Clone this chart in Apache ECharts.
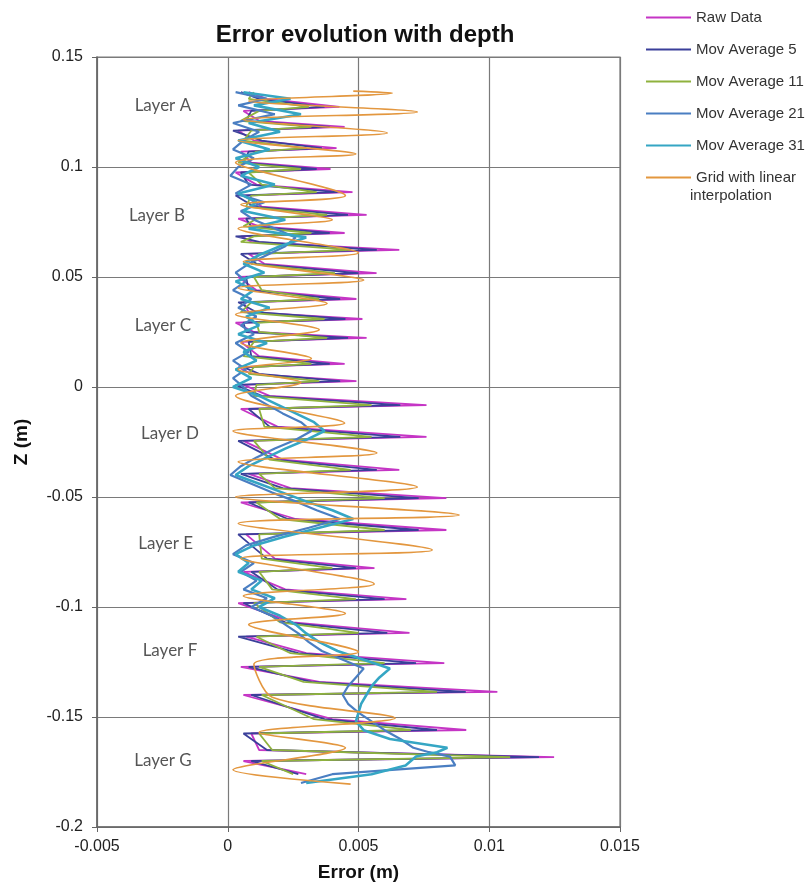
<!DOCTYPE html>
<html>
<head>
  <meta charset="UTF-8">
  <title>Error evolution with depth</title>
  <script src="https://cdn.jsdelivr.net/npm/echarts@6/dist/echarts.min.js"></script>
</head>
<style type="text/css">
    html,body {padding: 0; margin: 0; background: #fff;}
    #chart {width: 806px; height: 889px;}
</style>
<body>
<div id="chart"></div>
<script type="text/javascript">

// depth points shared by Raw data, Mov Average 5 and Mov Average 11
var zSpike = [
  0.134, 0.131, 0.1273, 0.1255, 0.121, 0.1182, 0.1165, 0.112, 0.1086, 0.107,
  0.102, 0.0991, 0.0975, 0.092, 0.0886, 0.087, 0.082, 0.0782, 0.0765, 0.073,
  0.07, 0.0685, 0.066, 0.0623, 0.0605, 0.056, 0.0518, 0.05, 0.044, 0.04,
  0.0385, 0.034, 0.0309, 0.0292, 0.025, 0.0223, 0.0205, 0.014, 0.0105, 0.009,
  0.006, 0.0027, 0.001, -0.004, -0.0082, -0.01, -0.018, -0.0227, -0.0245, -0.033,
  -0.0377, -0.0395, -0.046, -0.0505, -0.0525, -0.06, -0.065, -0.067, -0.078, -0.0823,
  -0.084, -0.092, -0.0964, -0.0982, -0.107, -0.1118, -0.1135, -0.121, -0.1255, -0.1272,
  -0.134, -0.1386, -0.14, -0.151, -0.1559, -0.1575, -0.165, -0.1682, -0.17, -0.176
];
var rawData = [
  0.0008, 0.0015, 0.00427, 0.0006, 0.0012, 0.00447, 0.0004, 0.0010, 0.00416, 0.0005,
  0.0009, 0.00393, 0.0003, 0.0011, 0.00477, 0.0006, 0.0013, 0.00531, 0.0004, 0.0012,
  0.00447, 0.0005, 0.0009, 0.00656, 0.0008, 0.0014, 0.00569, 0.0004, 0.0011, 0.00492,
  0.0006, 0.0008, 0.00515, 0.0003, 0.0010, 0.00531, 0.0005, 0.0012, 0.00447, 0.0004,
  0.0009, 0.00492, 0.0006, 0.0016, 0.0076, 0.0005, 0.0019, 0.0076, 0.0006, 0.0021,
  0.00656, 0.0008, 0.0024, 0.00836, 0.0005, 0.0026, 0.00836, 0.0007, 0.0018, 0.00561,
  0.0006, 0.0022, 0.00683, 0.0004, 0.0025, 0.00695, 0.0007, 0.0030, 0.00828, 0.0005,
  0.0035, 0.01031, 0.0006, 0.0040, 0.00912, 0.0009, 0.0012, 0.01248, 0.0006, 0.0030
];
var movAvg5 = [
  0.0005, 0.0012, 0.0037, 0.0009, 0.0007, 0.0039, 0.0002, 0.0013, 0.0036, 0.0008,
  0.0006, 0.0034, 0.0005, 0.0008, 0.0042, 0.0003, 0.0010, 0.0046, 0.0007, 0.0009,
  0.0039, 0.0003, 0.0012, 0.0057, 0.0005, 0.0011, 0.0050, 0.0007, 0.0008, 0.0043,
  0.0004, 0.0011, 0.0045, 0.0006, 0.0007, 0.0046, 0.0008, 0.0009, 0.0039, 0.0006,
  0.0012, 0.0043, 0.0003, 0.0013, 0.0066, 0.0008, 0.0016, 0.0066, 0.0004, 0.0018,
  0.0057, 0.0005, 0.0021, 0.0073, 0.0008, 0.0023, 0.0073, 0.0004, 0.0015, 0.0049,
  0.0009, 0.0019, 0.0060, 0.0006, 0.0022, 0.0061, 0.0004, 0.0027, 0.0072, 0.0008,
  0.0032, 0.0091, 0.0009, 0.0037, 0.0080, 0.0006, 0.0015, 0.0119, 0.0009, 0.0027
];
var movAvg11 = [
  0.0010, 0.0008, 0.0031, 0.0012, 0.0005, 0.0032, 0.0009, 0.0006, 0.0030, 0.0011,
  0.0004, 0.0028, 0.0008, 0.0013, 0.0034, 0.0009, 0.0007, 0.0038, 0.0011, 0.0006,
  0.0032, 0.0010, 0.0005, 0.0047, 0.0012, 0.0009, 0.0041, 0.0010, 0.0013, 0.0035,
  0.0009, 0.0005, 0.0037, 0.0011, 0.0012, 0.0038, 0.0010, 0.0006, 0.0032, 0.0010,
  0.0008, 0.0035, 0.0011, 0.0010, 0.0055, 0.0012, 0.0014, 0.0055, 0.0010, 0.0016,
  0.0047, 0.0012, 0.0018, 0.0060, 0.0011, 0.0020, 0.0060, 0.0012, 0.0013, 0.0040,
  0.0012, 0.0017, 0.0049, 0.0010, 0.0020, 0.0050, 0.0011, 0.0024, 0.0060, 0.0012,
  0.0029, 0.0080, 0.0013, 0.0033, 0.0070, 0.0012, 0.0017, 0.0108, 0.0013, 0.0025
];

// depth points shared by Mov Average 21 and Mov Average 31
var zSmooth = [
  0.134, 0.131, 0.128, 0.124, 0.12, 0.116, 0.112, 0.108, 0.104, 0.1,
  0.096, 0.092, 0.088, 0.084, 0.08, 0.076, 0.072, 0.068, 0.064, 0.06,
  0.056, 0.052, 0.048, 0.044, 0.04, 0.036, 0.032, 0.028, 0.024, 0.02,
  0.016, 0.012, 0.008, 0.004, 0, -0.004, -0.008, -0.012, -0.016, -0.02,
  -0.024, -0.028, -0.032, -0.036, -0.04, -0.044, -0.048, -0.052, -0.056, -0.06,
  -0.064, -0.068, -0.072, -0.076, -0.08, -0.084, -0.088, -0.092, -0.096, -0.1,
  -0.104, -0.108, -0.112, -0.116, -0.12, -0.124, -0.128, -0.132, -0.136, -0.14,
  -0.144, -0.148, -0.152, -0.156, -0.16, -0.164, -0.166, -0.168, -0.172, -0.176,
  -0.18
];
var movAvg21 = [
  0.0003, 0.0015, 0.0004, 0.0018, 0.0002, 0.0012, 0.0006, 0.0002, 0.0010, 0.0004,
  0.0001, 0.0009, 0.0003, 0.0014, 0.0005, 0.0010, 0.0018, 0.0026, 0.0022, 0.0015,
  0.0008, 0.0003, 0.0007, 0.0002, 0.0009, 0.0004, 0.0011, 0.0005, 0.0010, 0.0003,
  0.0008, 0.0002, 0.0007, 0.0002, 0.0006, 0.0009, 0.0015, 0.0021, 0.0028, 0.0032,
  0.0026, 0.0018, 0.0011, 0.0005, 0.0001, 0.0009, 0.0017, 0.0026, 0.0034, 0.0043,
  0.0031, 0.0018, 0.0007, 0.0002, 0.0010, 0.0005, 0.0011, 0.0006, 0.0015, 0.0009,
  0.0017, 0.0022, 0.0027, 0.0031, 0.0036, 0.0044, 0.0052, 0.0049, 0.0046, 0.0044,
  0.0046, 0.0050, 0.0055, 0.0060, 0.0066, 0.0071, 0.0077, 0.0085, 0.0087, 0.0040,
  0.0028
];
var movAvg31 = [
  0.0006, 0.0024, 0.0010, 0.0028, 0.0008, 0.0020, 0.0004, 0.0016, 0.0003, 0.0012,
  0.0005, 0.0018, 0.0004, 0.0011, 0.0006, 0.0022, 0.0008, 0.0030, 0.0020, 0.0012,
  0.0006, 0.0014, 0.0003, 0.0010, 0.0005, 0.0016, 0.0007, 0.0012, 0.0004, 0.0015,
  0.0006, 0.0011, 0.0003, 0.0009, 0.0002, 0.0012, 0.0019, 0.0026, 0.0033, 0.0037,
  0.0030, 0.0022, 0.0015, 0.0008, 0.0003, 0.0012, 0.0021, 0.0030, 0.0040, 0.0048,
  0.0035, 0.0022, 0.0010, 0.0003, 0.0008, 0.0004, 0.0013, 0.0009, 0.0018, 0.0012,
  0.0020, 0.0026, 0.0030, 0.0035, 0.0042, 0.0052, 0.0062, 0.0058, 0.0055, 0.0053,
  0.0051, 0.0050, 0.0049, 0.0052, 0.0062, 0.0084, 0.0080, 0.0072, 0.0068, 0.0055,
  0.0030
];

// grid with linear interpolation
var zGrid = [
  0.1345, 0.1336, 0.13, 0.125, 0.1215, 0.1155, 0.112, 0.1059, 0.102, 0.087,
  0.083, 0.076, 0.072, 0.061, 0.057, 0.0486, 0.045, 0.038, 0.033, 0.026,
  0.02, 0.013, 0.008, 0.002, -0.004, -0.0164, -0.02, -0.03, -0.034, -0.0455,
  -0.05, -0.0582, -0.062, -0.0741, -0.078, -0.0895, -0.095, -0.103, -0.108, -0.1205,
  -0.126, -0.141, -0.1505, -0.157, -0.164, -0.174, -0.1805
];
var gridInterp = [
  0.0048, 0.0063, 0.0008, 0.00725, 0.0006, 0.0061, 0.0004, 0.0049, 0.0003, 0.0045,
  0.0005, 0.0040, 0.0004, 0.0050, 0.0006, 0.0052, 0.0004, 0.0038, 0.0003, 0.0035,
  0.0005, 0.0032, 0.0004, 0.0028, 0.0003, 0.00447, 0.0002, 0.0057, 0.0004, 0.00725,
  0.0003, 0.00885, 0.0004, 0.00782, 0.0005, 0.0056, 0.0006, 0.0045, 0.0008, 0.0050,
  0.0010, 0.0017, 0.0064, 0.0012, 0.0045, 0.0002, 0.0047
];

var layerNames = ['Layer A', 'Layer B', 'Layer C', 'Layer D', 'Layer E', 'Layer F', 'Layer G'];
var layerX = [-0.00248, -0.00271, -0.00248, -0.00221, -0.00237, -0.00221, -0.00248];
var layerZ = [0.128, 0.078, 0.028, -0.021, -0.071, -0.12, -0.17];

var seriesNames = ['Raw Data', 'Mov Average 5', 'Mov Average 11', 'Mov Average 21', 'Mov Average 31', 'Grid with linear interpolation'];
var seriesColors = ['#c535c5', '#3a3f9a', '#8fb23e', '#4a7ec2', '#35a6c4', '#e3973f'];
var lineWidths = [1.8, 1.8, 1.8, 2.2, 2.6, 1.6];

function pairs(xs, zs) {
    var out = [];
    for (var i = 0; i < zs.length; i++) {
        out.push([xs[i], zs[i]]);
    }
    return out;
}

var lineData = [
    pairs(rawData, zSpike),
    pairs(movAvg5, zSpike),
    pairs(movAvg11, zSpike),
    pairs(movAvg21, zSmooth),
    pairs(movAvg31, zSmooth),
    pairs(gridInterp, zGrid)
];

var series = seriesNames.map(function (name, i) {
    return {
        name: name,
        type: 'line',
        data: lineData[i],
        symbol: 'none',
        showSymbol: false,
        smooth: i == 5 ? 0.3 : false,
        color: seriesColors[i],
        lineStyle: {width: lineWidths[i], color: seriesColors[i]},
        silent: true,
        animation: false
    };
});

series.push({
    type: 'scatter',
    symbolSize: 0,
    silent: true,
    animation: false,
    data: layerNames.map(function (n, i) { return {name: n, value: [layerX[i], layerZ[i]]}; }),
    label: {
        show: true,
        position: 'inside',
        formatter: '{b}',
        fontFamily: 'Lato',
        fontSize: 17,
        color: '#2a2a2a'
    }
});

var axisFont = {fontFamily: 'Liberation Sans', fontSize: 16, color: '#222'};

var option = {
    backgroundColor: '#fff',
    animation: false,
    title: {
        text: 'Error evolution with depth',
        left: 360,
        top: 18,
        textAlign: 'center',
        textStyle: {fontFamily: 'Liberation Sans', fontSize: 24, fontWeight: 'bold', color: '#111'}
    },
    legend: {
        orient: 'vertical',
        left: 640,
        top: 5,
        itemWidth: 45,
        itemHeight: 14,
        itemGap: 17,
        data: seriesNames,
        selectedMode: false,
        itemStyle: {opacity: 0},
        lineStyle: {width: 2},
        formatter: function (name) {
            return name == 'Grid with linear interpolation' ? 'Grid with linear' : name;
        },
        textStyle: {fontFamily: 'Liberation Sans', fontSize: 15, color: '#333'}
    },
    graphic: [{
        type: 'text',
        left: 690,
        top: 188,
        style: {text: 'interpolation', fontFamily: 'Liberation Sans', fontSize: 15, fill: '#333'}
    }],
    grid: {
        left: 97,
        right: 186,
        top: 57,
        bottom: 62,
        show: true,
        borderColor: '#7a7a7a',
        borderWidth: 1.2
    },
    xAxis: {
        type: 'value',
        min: -0.005,
        max: 0.015,
        interval: 0.005,
        name: 'Error (m)',
        nameLocation: 'middle',
        nameGap: 36,
        nameTextStyle: {fontFamily: 'Liberation Sans', fontSize: 19, fontWeight: 'bold', color: '#111'},
        axisLine: {onZero: false, lineStyle: {color: '#666', width: 1.5}},
        axisTick: {show: true, length: 5, lineStyle: {color: '#666'}},
        axisLabel: Object.assign({margin: 12}, axisFont),
        splitLine: {show: true, lineStyle: {color: '#7a7a7a', width: 1.2}}
    },
    yAxis: {
        type: 'value',
        min: -0.2,
        max: 0.15,
        interval: 0.05,
        name: 'Z (m)',
        nameLocation: 'middle',
        nameGap: 66,
        nameTextStyle: {fontFamily: 'Liberation Sans', fontSize: 19, fontWeight: 'bold', color: '#111'},
        axisLine: {show: true, onZero: false, lineStyle: {color: '#666', width: 1.5}},
        axisTick: {show: true, length: 5, lineStyle: {color: '#666'}},
        axisLabel: Object.assign({margin: 14}, axisFont),
        splitLine: {show: true, lineStyle: {color: '#7a7a7a', width: 1.2}}
    },
    series: series
};

var myChart = echarts.init(document.getElementById('chart'));
myChart.setOption(option, true);

</script>
</body>
</html>
